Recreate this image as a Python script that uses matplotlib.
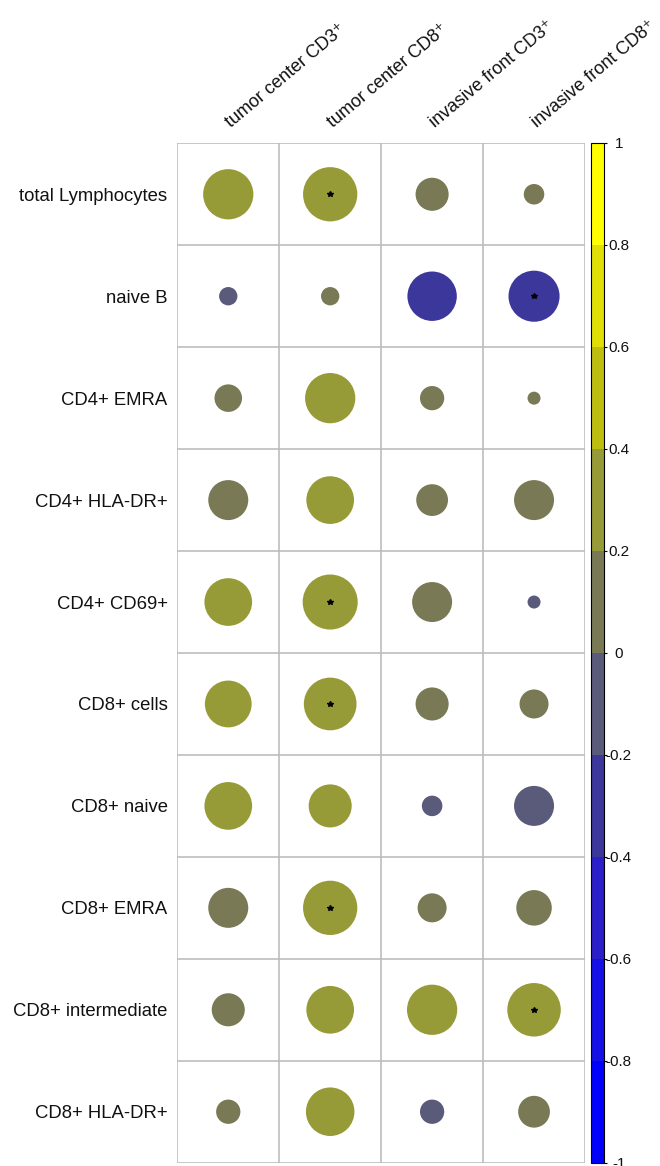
import numpy as np
import matplotlib
matplotlib.use("Agg")
import matplotlib.pyplot as plt
from matplotlib.colors import ListedColormap, BoundaryNorm
from matplotlib.patches import Circle
import matplotlib.cm as cm

plt.rcParams['font.family'] = ['Liberation Sans', 'DejaVu Sans']
plt.rcParams['axes.unicode_minus'] = False

rows = ["total Lymphocytes", "naive B", "CD4+ EMRA", "CD4+ HLA-DR+", "CD4+ CD69+",
        "CD8+ cells", "CD8+ naive", "CD8+ EMRA", "CD8+ intermediate", "CD8+ HLA-DR+"]
cols = ["tumor center CD3\u207a", "tumor center CD8\u207a",
        "invasive front CD3\u207a", "invasive front CD8\u207a"]

# correlation coefficients, one list per column
tc_cd3 = [0.30, -0.04, 0.09, 0.19, 0.27, 0.26, 0.27, 0.19, 0.13, 0.07]
tc_cd8 = [0.35, 0.04, 0.30, 0.27, 0.36, 0.33, 0.22, 0.35, 0.27, 0.28]
if_cd3 = [0.13, -0.29, 0.07, 0.12, 0.19, 0.13, -0.05, 0.10, 0.30, -0.07]
if_cd8 = [0.05, -0.31, 0.02, 0.19, -0.02, 0.10, -0.19, 0.15, 0.34, 0.12]

# significant cells (row, col)
sig = [(0, 1), (1, 3), (4, 1), (5, 1), (7, 1), (8, 3)]

corr = np.array([tc_cd3, tc_cd8, if_cd3, if_cd8]).T

palette = ["#0000FF", "#1410E6", "#2A1FC8", "#3C379B", "#5A5A7A",
           "#797A55", "#979B37", "#BEBE10", "#DFDF05", "#FFFF00"]
cmap = ListedColormap(palette)
bounds = np.linspace(-1, 1, 11)
norm = BoundaryNorm(bounds, cmap.N)

W, H = 660, 1166
fig = plt.figure(figsize=(W / 100, H / 100), dpi=100)
ax = fig.add_axes([177.3 / W, 1 - 1162.7 / H, 407.7 / W, 1019.4 / H])

nr, nc = corr.shape
ax.set_xlim(0.5, nc + 0.5)
ax.set_ylim(nr + 0.5, 0.5)

grid_col = "#BDBDBD"
for k in range(nc + 1):
    ax.axvline(k + 0.5, color=grid_col, lw=1.2, zorder=1)
for k in range(nr + 1):
    ax.axhline(k + 0.5, color=grid_col, lw=1.2, zorder=1)

for i in range(nr):
    for j in range(nc):
        v = corr[i, j]
        ax.add_patch(Circle((j + 1, i + 1), 0.45 * np.sqrt(abs(v)),
                            facecolor=cmap(norm(v)), edgecolor="none", zorder=2))
for i, j in sig:
    ax.plot(j + 1, i + 1, marker="*", color="black", markersize=4, zorder=3)

for s in ax.spines.values():
    s.set_visible(False)
ax.set_xticks([])
ax.set_yticks(np.arange(1, nr + 1))
ax.set_yticklabels(rows, fontsize=13.3, color="#111111")
ax.tick_params(axis="y", length=0, pad=7)

for j, name in enumerate(cols):
    ax.text(j + 1 + 0.03, 0.35, name, rotation=40, rotation_mode="anchor",
            ha="left", va="baseline", fontsize=13, color="#111111",
            clip_on=False)

# colour legend
cax = fig.add_axes([591 / W, 1 - 1163 / H, 12.5 / W, (1163 - 142.7) / H])
cb = fig.colorbar(cm.ScalarMappable(norm=norm, cmap=cmap), cax=cax,
                  ticks=bounds)
cb.outline.set_linewidth(0.8)
cb.outline.set_edgecolor("black")
tick_labels = ["-1", "-0.8", "-0.6", "-0.4", "-0.2", "0", "0.2", "0.4", "0.6", "0.8", "1"]
cax.set_yticklabels(tick_labels, fontsize=11, color="#111111")
cax.tick_params(axis="y", length=2.5, width=0.8, pad=8.5)
for lbl in cax.get_yticklabels():
    lbl.set_horizontalalignment("center")

fig.savefig("out.png", dpi=100)
